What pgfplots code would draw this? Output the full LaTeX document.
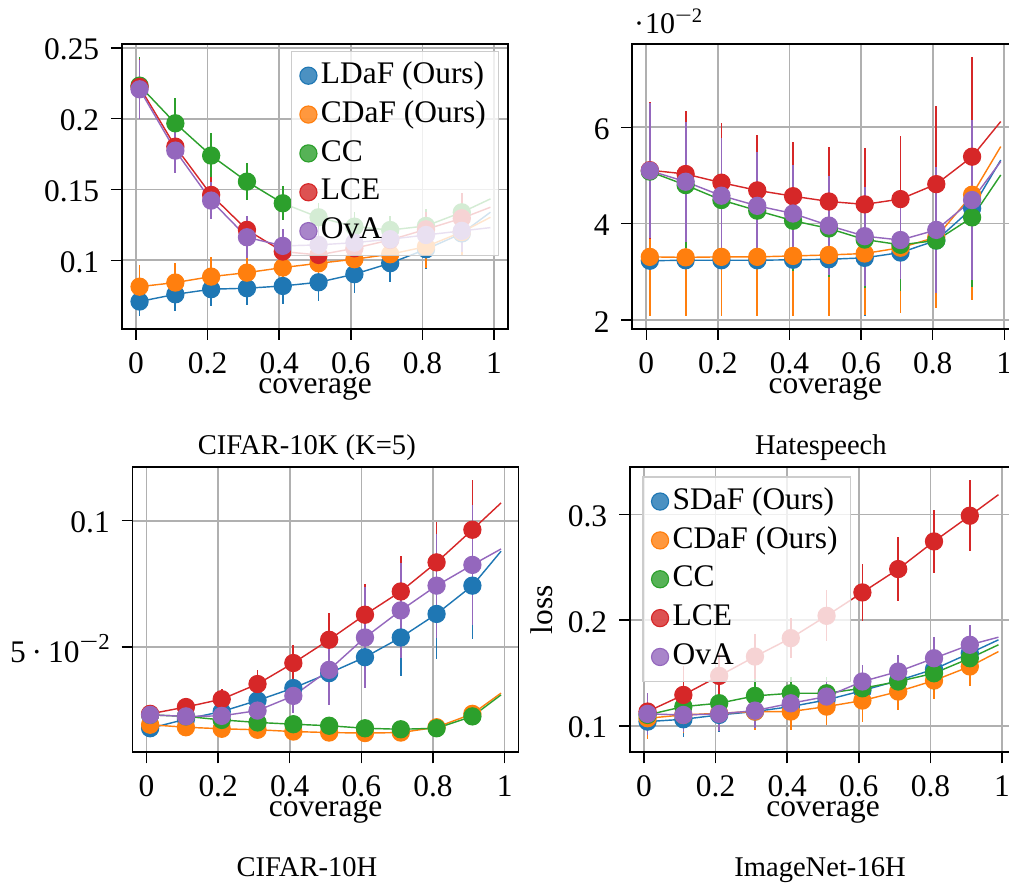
\documentclass[border=0pt]{standalone}
\usepackage{fontspec}
\setmainfont{Liberation Serif}
\usepackage{graphicx}
\usepackage{pgfplots}
\usepackage{pgfplotstable}
\pgfplotsset{compat=1.18}

\definecolor{c0}{HTML}{1F77B4}
\definecolor{c1}{HTML}{FF7F0E}
\definecolor{c2}{HTML}{2CA02C}
\definecolor{c3}{HTML}{D62728}
\definecolor{c4}{HTML}{9467BD}
\definecolor{gridgray}{HTML}{B0B0B0}
\definecolor{legendgray}{HTML}{CCCCCC}

% columns: coverage, mean loss and spread for each method; last row closes the curves
\pgfplotstableread{
x     b      be     o      oe     g      ge     r      re     p      pe
0.01  0.0709 0.010  0.0814 0.015  0.2234 0.020  0.2225 0.020  0.2208 0.021
0.11  0.0760 0.012  0.0843 0.014  0.1968 0.018  0.1803 0.018  0.1775 0.016
0.21  0.0796 0.012  0.0885 0.014  0.1740 0.016  0.1462 0.013  0.1422 0.013
0.31  0.0803 0.012  0.0913 0.014  0.1556 0.013  0.1215 0.010  0.1163 0.015
0.41  0.0819 0.013  0.0949 0.013  0.1403 0.012  0.1062 0.010  0.1102 0.012
0.51  0.0845 0.013  0.0979 0.013  0.1304 0.010  0.1038 0.010  0.1109 0.011
0.61  0.0902 0.013  0.1008 0.012  0.1238 0.010  0.1085 0.010  0.1125 0.010
0.71  0.0980 0.013  0.1043 0.012  0.1214 0.010  0.1144 0.010  0.1149 0.010
0.81  0.1078 0.014  0.1097 0.015  0.1243 0.012  0.1219 0.012  0.1179 0.012
0.91  0.1190 0.015  0.1200 0.017  0.1339 0.012  0.1297 0.018  0.1208 0.015
0.99  0.1340 0      0.1304 0      0.1434 0      0.1375 0      0.1231 0
}\cifarK

\pgfplotstableread{
x     b      be     o      oe     g      ge     r      re     p      pe
0.01  0.0323 0.0115 0.0331 0.0123 0.0508 0.0140 0.0511 0.0142 0.0510 0.0140
0.11  0.0324 0.0115 0.0330 0.0122 0.0480 0.0130 0.0503 0.0131 0.0487 0.0125
0.21  0.0324 0.0115 0.0331 0.0123 0.0449 0.0120 0.0485 0.0123 0.0458 0.0119
0.31  0.0324 0.0115 0.0331 0.0123 0.0427 0.0115 0.0469 0.0115 0.0437 0.0112
0.41  0.0325 0.0117 0.0333 0.0125 0.0406 0.0105 0.0457 0.0112 0.0421 0.0100
0.51  0.0326 0.0118 0.0335 0.0127 0.0390 0.0100 0.0446 0.0114 0.0396 0.0102
0.61  0.0329 0.0120 0.0338 0.0128 0.0367 0.0100 0.0440 0.0118 0.0374 0.0103
0.71  0.0340 0.0125 0.0350 0.0136 0.0356 0.0095 0.0451 0.0131 0.0366 0.0080
0.81  0.0365 0.0135 0.0372 0.0148 0.0365 0.0110 0.0482 0.0162 0.0387 0.0131
0.91  0.0432 0.0185 0.0460 0.0219 0.0413 0.0144 0.0539 0.0206 0.0449 0.0166
0.99  0.0532 0      0.0560 0      0.0501 0      0.0612 0      0.0529 0
}\hate

\pgfplotstableread{
x     b      be     o      oe     g      ge     r      re     p      pe
0.01  0.0179 0.002  0.0193 0.002  0.0232 0.002  0.0236 0.002  0.0232 0.002
0.11  0.0215 0.002  0.0183 0.002  0.0226 0.002  0.0263 0.003  0.0226 0.002
0.21  0.0245 0.003  0.0177 0.002  0.0212 0.002  0.0294 0.004  0.0228 0.003
0.31  0.0289 0.005  0.0173 0.002  0.0202 0.002  0.0354 0.0056 0.0249 0.004
0.41  0.0338 0.007  0.0166 0.002  0.0195 0.002  0.0437 0.0072 0.0307 0.0068
0.51  0.0397 0.010  0.0162 0.002  0.0189 0.002  0.0529 0.0106 0.0410 0.0138
0.61  0.0460 0.0122 0.0160 0.002  0.0179 0.002  0.0628 0.0123 0.0538 0.0200
0.71  0.0538 0.0151 0.0162 0.002  0.0175 0.002  0.0720 0.0139 0.0645 0.0187
0.81  0.0631 0.0177 0.0183 0.002  0.0179 0.002  0.0835 0.0158 0.0743 0.0206
0.91  0.0743 0.0211 0.0236 0.003  0.0226 0.0025 0.0964 0.0196 0.0825 0.0238
0.99  0.0879 0      0.0318 0      0.0311 0      0.1070 0      0.0888 0
}\cifarH

\pgfplotstableread{
x     b      be     o      oe     g      ge     r      re     p      pe
0.01  0.1041 0.015  0.1073 0.020  0.1104 0.016  0.1136 0.018  0.1114 0.020
0.11  0.1063 0.017  0.1104 0.017  0.1183 0.016  0.1293 0.027  0.1104 0.016
0.21  0.1104 0.016  0.1120 0.017  0.1215 0.016  0.1473 0.022  0.1114 0.016
0.31  0.1136 0.016  0.1136 0.017  0.1284 0.016  0.1656 0.021  0.1145 0.016
0.41  0.1183 0.016  0.1136 0.017  0.1309 0.015  0.1830 0.019  0.1214 0.016
0.51  0.1246 0.016  0.1183 0.017  0.1309 0.015  0.2041 0.024  0.1278 0.016
0.61  0.1334 0.016  0.1240 0.020  0.1356 0.015  0.2262 0.027  0.1420 0.016
0.71  0.1429 0.016  0.1325 0.017  0.1420 0.015  0.2483 0.030  0.1514 0.016
0.81  0.1536 0.017  0.1429 0.017  0.1498 0.016  0.2744 0.030  0.1640 0.020
0.91  0.1688 0.018  0.1562 0.018  0.1640 0.016  0.2987 0.0335 0.1767 0.019
0.99  0.1814 0      0.1703 0      0.1767 0      0.3186 0      0.1839 0
}\imgnet

\pgfplotsset{
  panel/.style={
    scale only axis, width=135.1pt, height=99.75pt, anchor=south west,
    xmin=-0.039, xmax=1.039,
    xtick={0,0.2,0.4,0.6,0.8,1}, xticklabels={0,0.2,0.4,0.6,0.8,1},
    scaled ticks=false,
    tick align=outside, tick pos=left, major tick length=3.85pt,
    tick style={color=black, line width=0.5pt},
    axis line style={line width=0.6pt},
    grid=major, major grid style={color=gridgray, line width=0.6pt},
    ticklabel style={font=\fontsize{11}{13}\selectfont},
    xticklabel style={anchor=base, yshift=-11.65pt},
    yticklabel style={anchor=east, xshift=-0.6pt, yshift=-0.6pt},
    xlabel=coverage,
    xlabel style={at={(axis description cs:0.5,-0.2256)}, anchor=base,
      font=\fontsize{11}{13}\selectfont},
    legend cell align=left,
    legend style={draw=legendgray, fill=white, fill opacity=0.8,
      draw opacity=1, text opacity=1, font=\fontsize{11}{13}\selectfont,
      inner xsep=3.0pt, inner ysep=1.8pt, row sep=0pt,
      nodes={inner xsep=1.4pt, inner ysep=1.3pt, text height=8.2pt, text depth=2.8pt}},
    legend image code/.code={\draw[##1] plot coordinates {(3pt,0pt)};},
  },
  curve/.style={color=#1, line width=0.5pt, forget plot, mark=none},
  pts/.style={color=#1, only marks, mark=*, mark size=3pt,
    error bars/y dir=both, error bars/y explicit, error bars/error mark=none,
    error bars/error bar style={color=#1, line width=0.6pt}},
}

% one method: connecting curve, then points with spread bars
\newcommand{\method}[4]{%
  \addplot[curve=#1] table[x=x, y=#2] {#4};
  \addplot[pts=#1] table[x=x, y=#2, y error=#3, skip coords between index={10}{11}] {#4};
}
\newcommand{\allmethods}[1]{%
  \method{c0}{b}{be}{#1}
  \method{c1}{o}{oe}{#1}
  \method{c2}{g}{ge}{#1}
  \method{c3}{r}{re}{#1}
  \method{c4}{p}{pe}{#1}
}
% a wide minus, as in the exponent of a scale factor
\newcommand{\wminus}{\scalebox{1.45}[1]{−}}

\begin{document}
\begin{tikzpicture}
\useasboundingbox (0pt,0pt) rectangle (353.15pt,-309.75pt);

% CIFAR-10K (K=5)
\begin{axis}[panel, at={(42.7pt,-115.15pt)},
  ymin=0.0515, ymax=0.2528,
  ytick={0.1,0.15,0.2,0.25}, yticklabels={0.1,0.15,0.2,0.25},
  legend style={at={(0.977,0.977)}, anchor=north east},
  legend entries={LDaF (Ours), CDaF (Ours), CC, LCE, OvA}]
\allmethods{\cifarK}
\end{axis}

% Hatespeech
\begin{axis}[panel, at={(221.3pt,-115.15pt)},
  ymin=0.01813, ymax=0.07729,
  ytick={0.02,0.04,0.06}, yticklabels={2,4,6}]
\allmethods{\hate}
\end{axis}
\node[anchor=base west, inner sep=0pt, font=\fontsize{10.5}{12}\selectfont]
  at (221.7pt,-11.66pt) {·\hspace{0.4pt}10\raisebox{3.7pt}{\fontsize{7.2}{8}\selectfont\wminus 2}};

% CIFAR-10H
\begin{axis}[panel, at={(46.4pt,-263.3pt)},
  ymin=0.0084, ymax=0.1211,
  ytick={0.05,0.1},
  yticklabels={{5\hspace{2.1pt}·\hspace{2.1pt}10\raisebox{4.65pt}{\fontsize{8}{9}\selectfont\wminus 2}},0.1}]
\allmethods{\cifarH}
\end{axis}

% ImageNet-16H
\begin{axis}[panel, at={(220.5pt,-263.3pt)},
  ymin=0.0751, ymax=0.3445,
  ytick={0.1,0.2,0.3}, yticklabels={0.1,0.2,0.3},
  ylabel=loss,
  ylabel style={at={(axis description cs:-0.229,0.5)}, anchor=center,
    font=\fontsize{11}{13}\selectfont},
  legend style={at={(0.032,0.968)}, anchor=north west},
  legend entries={SDaF (Ours), CDaF (Ours), CC, LCE, OvA}]
\allmethods{\imgnet}
\end{axis}

% panel captions
\node[anchor=base, font=\fontsize{10}{12}\selectfont] at (107.4pt,-159.0pt) {CIFAR-10K (K=5)};
\node[anchor=base, font=\fontsize{10}{12}\selectfont] at (287.3pt,-159.0pt) {Hatespeech};
\node[anchor=base, font=\fontsize{10}{12}\selectfont] at (107.45pt,-306.8pt) {CIFAR-10H};
\node[anchor=base, font=\fontsize{10}{12}\selectfont] at (287.0pt,-306.8pt) {ImageNet-16H};
\end{tikzpicture}
\end{document}
